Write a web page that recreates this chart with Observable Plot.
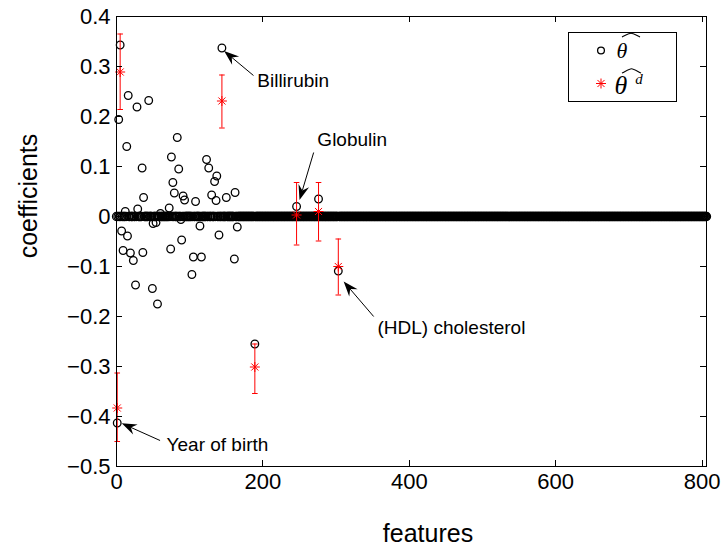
<!DOCTYPE html>
<html><head><meta charset="utf-8">
<script src="https://cdn.jsdelivr.net/npm/d3@7"></script>
<script src="https://cdn.jsdelivr.net/npm/@observablehq/plot@0.6"></script>
<style>body{margin:0;background:#fff}</style>
</head><body><div id="chart"></div>
<script>
// ---- data ----
const nFeatures = 806;
const xTicks = [0, 200, 400, 600, 800];
const yTicks = [-0.5, -0.4, -0.3, -0.2, -0.1, 0, 0.1, 0.2, 0.3, 0.4];

// nonzero estimated coefficients (theta hat)
const thetaIdx = [1, 3, 5, 7, 9, 12, 14, 15, 16, 19, 23, 26, 28, 29, 35, 36, 37, 44, 49, 50, 54, 56, 60, 72, 74, 75, 77, 79, 83, 85, 88, 89, 91, 93, 103, 105, 108, 114, 116, 123, 126, 130, 134, 136, 137, 140, 144, 150, 161, 162, 165, 189, 246, 276, 303];
const thetaVal = [-0.413, 0.194, 0.343, -0.029, -0.068, 0.010, 0.140, -0.039, 0.242, -0.073, -0.088, -0.137, 0.219, 0.015, 0.097, -0.072, 0.038, 0.232, -0.144, -0.014, -0.012, -0.175, 0.006, 0.017, -0.065, 0.119, 0.068, 0.047, 0.158, 0.095, -0.006, -0.047, 0.041, 0.033, -0.116, -0.081, 0.030, -0.019, -0.081, 0.114, 0.097, 0.043, 0.070, 0.032, 0.081, -0.037, 0.337, 0.038, -0.085, 0.048, -0.021, -0.255, 0.020, 0.035, -0.109];

// debiased coefficients (theta hat ^d) with confidence intervals
const debIdx = [1, 5, 144, 189, 246, 276, 303];
const debVal = [-0.383, 0.289, 0.231, -0.301, 0.003, 0.010, -0.100];
const debLo  = [-0.450, 0.214, 0.177, -0.354, -0.057, -0.049, -0.157];
const debHi  = [-0.313, 0.365, 0.283, -0.255, 0.068, 0.068, -0.045];

// annotations (data coordinates)
const annLabel = ["Billirubin", "Globulin", "(HDL) cholesterol", "Year of birth"];
const annTipX  = [147.7, 250.7, 311, 7.8];
const annTipY  = [0.330, 0.032, -0.131, -0.4146];
const annTailX = [187.8, 270, 352, 60.2];
const annTailY = [0.281, 0.127, -0.201, -0.449];
const annTextX = [192.3, 274.4, 356.6, 68.4];
const annTextY = [0.272, 0.154, -0.222, -0.457];

// ---- derived tables ----
const nz = new Set(thetaIdx);
const zeros = d3.range(0, nFeatures + 1).filter(i => !nz.has(i)).map(i => ({x: i, y: 0}));
const theta = thetaIdx.map((x, i) => ({x, y: thetaVal[i]}));
const deb = debIdx.map((x, i) => ({x, y: debVal[i], lo: debLo[i], hi: debHi[i]}));
const ann = annLabel.map((label, i) => ({label, tx: annTextX[i], ty: annTextY[i]}));

const FONT = "Liberation Sans, Arial, Helvetica, sans-serif";

function starPath(ctx, r) {
  for (let k = 0; k < 4; k++) {
    const a = k * Math.PI / 4;
    ctx.moveTo(-r * Math.cos(a), -r * Math.sin(a));
    ctx.lineTo(r * Math.cos(a), r * Math.sin(a));
  }
}
const asterisk = {draw(ctx, size) { starPath(ctx, Math.sqrt(size / Math.PI)); }};
const hcap = {draw(ctx, size) { const r = Math.sqrt(size / Math.PI); ctx.moveTo(-r, 0); ctx.lineTo(r, 0); }};

// inner ticks on all four sides
function innerTicks(index, scales, values, dims) {
  const L = dims.marginLeft, T = dims.marginTop;
  const R = dims.width - dims.marginRight, B = dims.height - dims.marginBottom;
  const g = d3.create("svg:g").attr("stroke", "black").attr("stroke-width", 1);
  const t = 6;
  for (const v of xTicks) {
    const px = Math.round(scales.x(v)) + 0.5;
    g.append("line").attr("x1", px).attr("x2", px).attr("y1", B).attr("y2", B - t);
    g.append("line").attr("x1", px).attr("x2", px).attr("y1", T).attr("y2", T + t);
  }
  for (const v of yTicks) {
    const py = Math.round(scales.y(v)) + 0.5;
    g.append("line").attr("y1", py).attr("y2", py).attr("x1", L).attr("x2", L + t);
    g.append("line").attr("y1", py).attr("y2", py).attr("x1", R).attr("x2", R - t);
  }
  return g.node();
}

// annotation arrows with filled heads
function arrows(index, scales) {
  const g = d3.create("svg:g");
  annLabel.forEach((_, i) => {
    const x1 = scales.x(annTailX[i]), y1 = scales.y(annTailY[i]);
    const x2 = scales.x(annTipX[i]), y2 = scales.y(annTipY[i]);
    const a = Math.atan2(y2 - y1, x2 - x1);
    const ux = Math.cos(a), uy = Math.sin(a), nx = -uy, ny = ux;
    const P = (d, w) => [x2 - d * ux + w * nx, y2 - d * uy + w * ny];
    const Lh = 15, W = 5.5, N = 10;
    const back = P(N, 0);
    g.append("line").attr("x1", x1).attr("y1", y1).attr("x2", back[0]).attr("y2", back[1])
      .attr("stroke", "black").attr("stroke-width", 1);
    const pts = [P(0, 0), P(Lh, W), P(N, 0), P(Lh, -W)];
    g.append("path").attr("d", "M" + pts.map(p => p.join(",")).join("L") + "Z").attr("fill", "black");
  });
  return g.node();
}

// axis titles
function axisTitles(index, scales, values, dims) {
  const g = d3.create("svg:g").attr("font-family", FONT).attr("font-size", 25).attr("fill", "black");
  g.append("text").attr("x", 428).attr("y", dims.height - 4).attr("text-anchor", "middle").text("features");
  g.append("text").attr("transform", `translate(37,196) rotate(-90)`).attr("text-anchor", "middle").text("coefficients");
  return g.node();
}

// legend box
function legend(index, scales, values, dims) {
  const R = dims.width - dims.marginRight, T = dims.marginTop;
  const bx = R - 138, by = T + 16, bw = 108, bh = 69;
  const g = d3.create("svg:g");
  g.append("rect").attr("x", bx + 0.5).attr("y", by + 0.5).attr("width", bw).attr("height", bh)
    .attr("fill", "white").attr("stroke", "black").attr("stroke-width", 1);
  const serif = "Liberation Serif, Times New Roman, serif";
  const hat = (x0, x1, yb, h) =>
    `M${x0},${yb} C${x0 + (x1 - x0) * 0.3},${yb - h * 0.7} ${x0 + (x1 - x0) * 0.4},${yb - h} ${(x0 + x1) / 2},${yb - h} ` +
    `C${x0 + (x1 - x0) * 0.6},${yb - h} ${x0 + (x1 - x0) * 0.7},${yb - h * 0.7} ${x1},${yb}`;
  // entry 1
  g.append("circle").attr("cx", bx + 33).attr("cy", by + 18.5).attr("r", 3.4)
    .attr("fill", "none").attr("stroke", "black").attr("stroke-width", 1.3);
  g.append("text").attr("x", bx + 54).attr("y", by + 25.5).attr("font-family", serif)
    .attr("font-style", "italic").attr("font-size", 22).text("θ");
  g.append("path").attr("d", hat(bx + 54, bx + 72, by + 5, 3.8))
    .attr("fill", "none").attr("stroke", "black").attr("stroke-width", 1.1);
  // entry 2
  const sp = d3.path(); starPath(sp, 5);
  g.append("path").attr("transform", `translate(${bx + 33},${by + 51.5})`).attr("d", sp.toString())
    .attr("stroke", "red").attr("stroke-width", 1).attr("fill", "none");
  g.append("text").attr("x", bx + 53).attr("y", by + 62).attr("font-family", serif)
    .attr("font-style", "italic").attr("font-size", 26).text("θ");
  g.append("path").attr("d", hat(bx + 54, bx + 73, by + 41, 4.2))
    .attr("fill", "none").attr("stroke", "black").attr("stroke-width", 1.1);
  g.append("text").attr("x", bx + 71).attr("y", by + 52).attr("font-family", serif)
    .attr("font-style", "italic").attr("font-size", 15).text("d");
  return g.node();
}

const chart = Plot.plot({
  width: 724,
  height: 546,
  marginLeft: 116,
  marginRight: 18,
  marginTop: 16,
  marginBottom: 80,
  style: {fontFamily: FONT, background: "white", color: "black"},
  x: {domain: [0, nFeatures], label: null},
  y: {domain: [-0.5, 0.4], label: null},
  marks: [
    Plot.axisX({ticks: xTicks, tickSize: 0, tickPadding: 7, fontSize: 22, tickFormat: d3.format("d")}),
    Plot.axisY({ticks: yTicks, tickSize: 0, tickPadding: 6, fontSize: 22,
      tickFormat: d => d === 0 ? "0" : d3.format(".1f")(d)}),
    Plot.dot(zeros, {x: "x", y: "y", r: 4, stroke: "black", strokeWidth: 1.3, fill: "none"}),
    Plot.dot(theta, {x: "x", y: "y", r: 3.8, stroke: "black", strokeWidth: 1.3, fill: "none"}),
    Plot.ruleX(deb, {x: "x", y1: "lo", y2: "hi", stroke: "red", strokeWidth: 1}),
    Plot.dot(deb, {x: "x", y: "lo", symbol: hcap, r: 2.8, stroke: "red", strokeWidth: 1, fill: "none"}),
    Plot.dot(deb, {x: "x", y: "hi", symbol: hcap, r: 2.8, stroke: "red", strokeWidth: 1, fill: "none"}),
    Plot.dot(deb, {x: "x", y: "y", symbol: asterisk, r: 5, stroke: "red", strokeWidth: 1, fill: "none"}),
    arrows,
    Plot.text(ann, {x: "tx", y: "ty", text: "label", textAnchor: "start", lineAnchor: "middle",
      fontSize: 19, fill: "black"}),
    Plot.frame({stroke: "black", strokeWidth: 1}),
    innerTicks,
    legend,
    axisTitles
  ]
});
document.getElementById("chart").appendChild(chart);
</script>
</body></html>
